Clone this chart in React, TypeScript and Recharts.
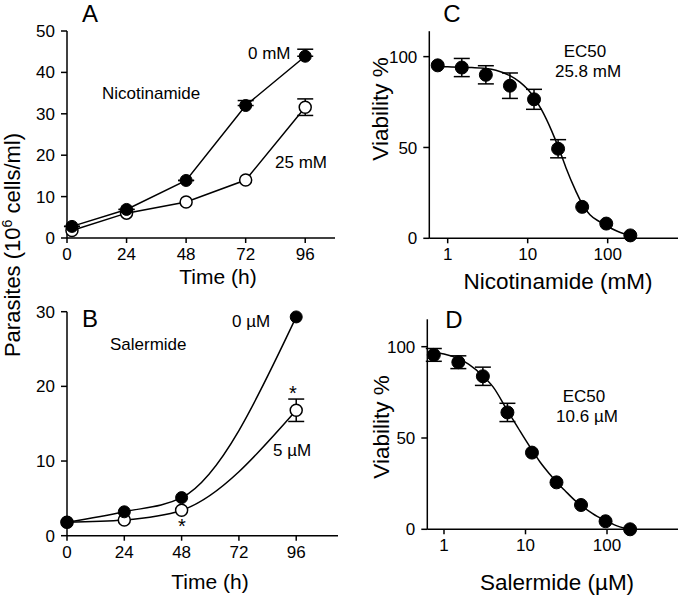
import { ComposedChart, Line, XAxis, YAxis, ErrorBar } from 'recharts'

const FONT = '"Liberation Sans", Arial, sans-serif'

// A: nicotinamide growth curves
const hoursA = [2, 24, 48, 72, 96]
const nicoZero = [2.8, 6.9, 13.9, 32, 43.9]
const nicoZeroErr = [0, 0, 0, 1.2, 1.7] // only the upper bar is drawn
const nicoTwentyFive = [1.8, 6.0, 8.7, 14, 31.6]
const nicoTwentyFiveErr = [0, 0, 0, 0, 2]

// B: salermide growth curves
const hoursB = [0, 24, 48, 96]
const salZero = [1.8, 3.2, 5.1, 29.3]
const salZeroErr = [0, 0, 0, 0]
const salFive = [1.8, 2.1, 3.4, 16.8]
const salFiveErr = [0, 0, 0, 1.5]

// C / D: dose response
const doses = [0.75, 1.5, 3, 6, 12, 24, 48, 96, 192]
const nicoViability = [95.2, 94, 90, 84, 76.5, 49.3, 17.3, 8.1, 1.6]
const nicoViabilityErr = [0, 5, 5, 7, 5.5, 5, 0, 0, 0]
const salViability = [95.5, 91.5, 83.8, 64, 42, 25.7, 13.3, 4.4, 0]
const salViabilityErr = [3.5, 3.5, 5, 5, 0, 0, 0, 0, 0]

// fitted curves
const fitDoses = [0.75, 1, 1.5, 2, 3, 4, 6, 8, 10, 12, 15, 20, 25, 30, 40, 50, 60, 80, 100, 130, 160, 192]
const nicoFit = [94.5, 94.4, 94.2, 94, 93.5, 92.5, 89.5, 86, 82, 77.5, 70.5, 59, 48.5, 39, 26, 17.5, 13, 9, 6.5, 4, 2.5, 1.5]
const salFit = [97, 96, 93.5, 90.5, 84, 78, 65, 56, 49, 43.5, 37, 30, 25, 21.5, 16, 12.5, 10, 6.5, 4.5, 2, 0.7, 0]

const hourTicks = [0, 24, 48, 72, 96]
const doseTicks = [1, 10, 100]

const growthA = hoursA.map((t, i) => ({
  t, zero: nicoZero[i], zeroErr: [0, nicoZeroErr[i]], tf: nicoTwentyFive[i], tfErr: nicoTwentyFiveErr[i],
}))
const growthB = hoursB.map((t, i) => ({
  t, zero: salZero[i], zeroErr: salZeroErr[i], five: salFive[i], fiveErr: salFiveErr[i],
}))
const nicoPoints = doses.map((d, i) => ({ d, v: nicoViability[i], err: nicoViabilityErr[i] }))
const salPoints = doses.map((d, i) => ({ d, v: salViability[i], err: salViabilityErr[i] }))
const nicoCurve = fitDoses.map((d, i) => ({ d, v: nicoFit[i] }))
const salCurve = fitDoses.map((d, i) => ({ d, v: salFit[i] }))

const axisStyle = {
  axisLine: { stroke: '#000', strokeWidth: 1.5 },
  tickLine: { stroke: '#000', strokeWidth: 1.5 },
  tick: { fill: '#000', fontSize: 17, fontFamily: FONT },
}
const filledDot = { r: 6, fill: '#000', stroke: '#000', strokeWidth: 1 }
const openDot = { r: 6, fill: '#fff', stroke: '#000', strokeWidth: 1.5 }
const bigDot = { r: 6.5, fill: '#000', stroke: '#000', strokeWidth: 1 }

export default function App() {
  return (
    <div style={{ position: 'absolute', left: 0, top: 0, width: 680, height: 600, background: '#fff', fontFamily: FONT }}>
      <div style={{ position: 'absolute', left: 0, top: 0 }}>
        <ComposedChart width={345} height={290} data={growthA} margin={{ top: 31, right: 10, bottom: 0, left: 0 }}>
          <XAxis dataKey="t" type="number" domain={[0, 108]} ticks={hourTicks} interval={0} height={52} tickSize={5} tickMargin={5} {...axisStyle} />
          <YAxis type="number" domain={[0, 50]} ticks={[0, 10, 20, 30, 40, 50]} interval={0} width={67} tickSize={6} tickMargin={6} {...axisStyle} />
          <Line dataKey="tf" type="linear" stroke="#000" strokeWidth={1.5} dot={openDot} isAnimationActive={false}>
            <ErrorBar dataKey="tfErr" width={8} stroke="#000" strokeWidth={1.5} direction="y" />
          </Line>
          <Line dataKey="zero" type="linear" stroke="#000" strokeWidth={1.5} dot={filledDot} isAnimationActive={false}>
            <ErrorBar dataKey="zeroErr" width={8} stroke="#000" strokeWidth={1.5} direction="y" />
          </Line>
        </ComposedChart>
      </div>

      <div style={{ position: 'absolute', left: 0, top: 290 }}>
        <ComposedChart width={345} height={310} data={growthB} margin={{ top: 21.7, right: 7, bottom: 0, left: 0 }}>
          <XAxis dataKey="t" type="number" domain={[0, 113.5]} ticks={hourTicks} interval={0} height={64.3} tickSize={5} tickMargin={5} {...axisStyle} />
          <YAxis type="number" domain={[0, 30]} ticks={[0, 10, 20, 30]} interval={0} width={67} tickSize={6} tickMargin={6} {...axisStyle} />
          <Line dataKey="five" type="monotone" stroke="#000" strokeWidth={1.5} dot={openDot} isAnimationActive={false}>
            <ErrorBar dataKey="fiveErr" width={8} stroke="#000" strokeWidth={1.5} direction="y" />
          </Line>
          <Line dataKey="zero" type="monotone" stroke="#000" strokeWidth={1.5} dot={filledDot} isAnimationActive={false}>
            <ErrorBar dataKey="zeroErr" width={8} stroke="#000" strokeWidth={1.5} direction="y" />
          </Line>
        </ComposedChart>
      </div>

      <div style={{ position: 'absolute', left: 340, top: 0 }}>
        <ComposedChart width={340} height={290} margin={{ top: 31.2, right: 2, bottom: 0, left: 0 }}>
          <XAxis dataKey="d" type="number" scale="log" domain={[0.589, 757]} ticks={doseTicks} interval={0} height={51.7} tickSize={5} tickMargin={5} {...axisStyle} />
          <YAxis type="number" domain={[0, 114]} ticks={[0, 50, 100]} interval={0} width={89.3} tickSize={6} tickMargin={6} {...axisStyle} />
          <Line data={nicoCurve} dataKey="v" type="monotone" stroke="#000" strokeWidth={1.5} dot={false} isAnimationActive={false} />
          <Line data={nicoPoints} dataKey="v" type="linear" stroke="none" dot={bigDot} isAnimationActive={false}>
            <ErrorBar dataKey="err" width={8} stroke="#000" strokeWidth={1.5} direction="y" />
          </Line>
        </ComposedChart>
      </div>

      <div style={{ position: 'absolute', left: 340, top: 290 }}>
        <ComposedChart width={340} height={310} margin={{ top: 29.3, right: 2, bottom: 0, left: 0 }}>
          <XAxis dataKey="d" type="number" scale="log" domain={[0.624, 743]} ticks={doseTicks} interval={0} height={70.7} tickSize={5} tickMargin={5} {...axisStyle} />
          <YAxis type="number" domain={[0, 115]} ticks={[0, 50, 100]} interval={0} width={87.3} tickSize={6} tickMargin={6} {...axisStyle} />
          <Line data={salCurve} dataKey="v" type="monotone" stroke="#000" strokeWidth={1.5} dot={false} isAnimationActive={false} />
          <Line data={salPoints} dataKey="v" type="linear" stroke="none" dot={bigDot} isAnimationActive={false}>
            <ErrorBar dataKey="err" width={8} stroke="#000" strokeWidth={1.5} direction="y" />
          </Line>
        </ComposedChart>
      </div>

      <svg width={680} height={600} style={{ position: 'absolute', left: 0, top: 0, pointerEvents: 'none' }} fontFamily={FONT} fill="#000">
        <text x={90} y={22} fontSize={24} textAnchor="middle">A</text>
        <text x={90} y={327} fontSize={24} textAnchor="middle">B</text>
        <text x={452} y={22} fontSize={24} textAnchor="middle">C</text>
        <text x={454} y={328} fontSize={24} textAnchor="middle">D</text>

        <text x={102} y={99} fontSize={17}>Nicotinamide</text>
        <text x={248} y={59} fontSize={17}>0 mM</text>
        <text x={275} y={168} fontSize={17}>25 mM</text>
        <text x={218} y={284} fontSize={21} textAnchor="middle">Time (h)</text>

        <text x={110} y={350} fontSize={17}>Salermide</text>
        <text x={232} y={327} fontSize={17}>0 µM</text>
        <text x={273} y={456} fontSize={17}>5 µM</text>
        <text x={182} y={533} fontSize={20} textAnchor="middle">*</text>
        <text x={293} y={400} fontSize={20} textAnchor="middle">*</text>
        <text x={210} y={589} fontSize={21} textAnchor="middle">Time (h)</text>

        <text x={585} y={57} fontSize={17} textAnchor="middle">EC50</text>
        <text x={588} y={77} fontSize={17} textAnchor="middle">25.8 mM</text>
        <text transform="translate(388,109) rotate(-90)" fontSize={22.5} textAnchor="middle">Viability %</text>
        <text x={558} y={289} fontSize={22.5} textAnchor="middle">Nicotinamide (mM)</text>

        <text x={584} y={402} fontSize={17} textAnchor="middle">EC50</text>
        <text x={587} y={422} fontSize={17} textAnchor="middle">10.6 µM</text>
        <text transform="translate(389,427) rotate(-90)" fontSize={22.5} textAnchor="middle">Viability %</text>
        <text x={557} y={590} fontSize={22.5} textAnchor="middle">Salermide (µM)</text>

        <text transform="translate(20,245) rotate(-90)" fontSize={22} textAnchor="middle">
          Parasites (10<tspan dy={-8} fontSize={14}>6</tspan><tspan dy={8}> cells/ml)</tspan>
        </text>
      </svg>
    </div>
  )
}
